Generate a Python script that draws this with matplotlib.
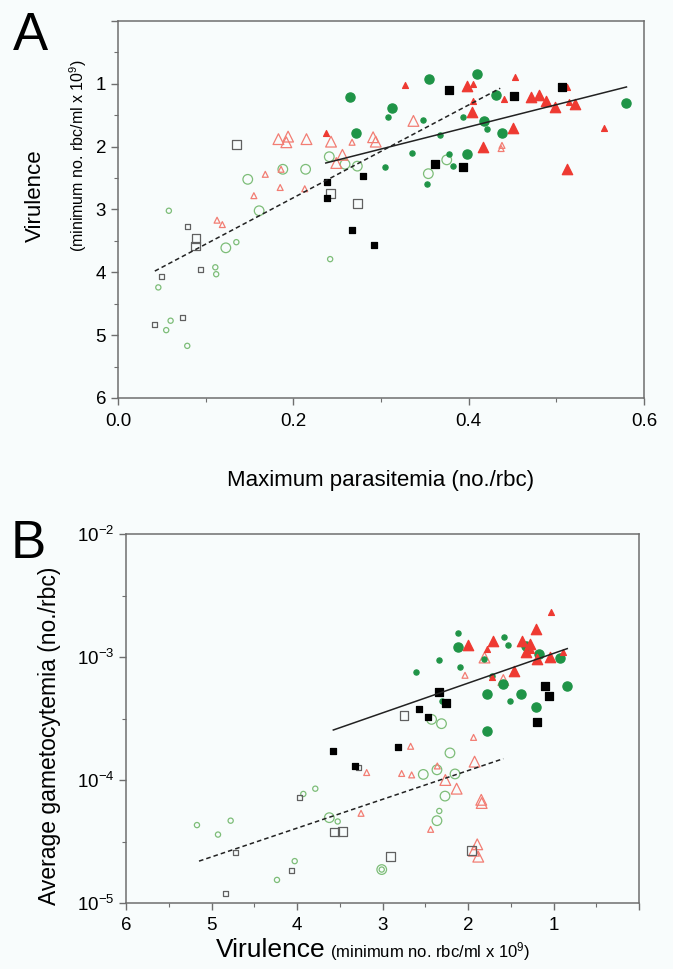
import numpy as np
import matplotlib
matplotlib.use('Agg')
import matplotlib.pyplot as plt
from matplotlib.ticker import FixedLocator, NullFormatter

plt.rcParams['font.family'] = ['Liberation Sans', 'DejaVu Sans']
plt.rcParams['mathtext.fontset'] = 'custom'
plt.rcParams['mathtext.rm'] = 'Liberation Sans'
plt.rcParams['mathtext.it'] = 'Liberation Sans:italic'
plt.rcParams['mathtext.default'] = 'regular'

# ---------------- Panel A: virulence vs maximum parasitemia ----------------
# (x = max parasitemia, y = virulence); G/R/K = green/red/black, F/O = filled/open, L/S = large/small
a_gf_l = ([0.265, 0.272, 0.355, 0.410, 0.431, 0.580, 0.313, 0.418, 0.438, 0.398],
          [1.21, 1.78, 0.92, 0.84, 1.17, 1.31, 1.39, 1.59, 1.78, 2.12])
a_gf_s = ([0.308, 0.348, 0.394, 0.421, 0.367, 0.335, 0.304, 0.377, 0.382, 0.352],
          [1.52, 1.58, 1.53, 1.72, 1.81, 2.10, 2.33, 2.12, 2.30, 2.60])
a_go_l = ([0.148, 0.188, 0.214, 0.241, 0.259, 0.273, 0.161, 0.375, 0.354, 0.123],
          [2.52, 2.36, 2.36, 2.16, 2.28, 2.31, 3.02, 2.21, 2.43, 3.61])
a_go_s = ([0.058, 0.135, 0.111, 0.112, 0.046, 0.060, 0.055, 0.079, 0.242],
          [3.02, 3.52, 3.92, 4.03, 4.24, 4.77, 4.92, 5.17, 3.79])
a_rf_l = ([0.398, 0.471, 0.480, 0.488, 0.498, 0.521, 0.404, 0.451, 0.416, 0.512],
          [1.04, 1.21, 1.18, 1.27, 1.37, 1.32, 1.45, 1.70, 2.00, 2.36])
a_rf_s = ([0.237, 0.327, 0.405, 0.453, 0.512, 0.440, 0.514, 0.405, 0.554],
          [1.78, 1.02, 1.00, 0.89, 1.05, 1.24, 1.29, 1.27, 1.71])
a_ro_l = ([0.183, 0.194, 0.192, 0.215, 0.243, 0.291, 0.294, 0.256, 0.249, 0.337],
          [1.88, 1.84, 1.93, 1.88, 1.92, 1.85, 1.92, 2.13, 2.26, 1.59])
a_ro_s = ([0.267, 0.168, 0.185, 0.213, 0.155, 0.113, 0.119, 0.186, 0.438, 0.437, 0.362],
          [1.93, 2.44, 2.65, 2.67, 2.78, 3.17, 3.24, 2.36, 1.98, 2.03, 2.27])
a_kf_l = ([0.377, 0.507, 0.452, 0.362, 0.394],
          [1.10, 1.05, 1.19, 2.27, 2.33])
a_kf_s = ([0.238, 0.238, 0.279, 0.267, 0.292],
          [2.57, 2.81, 2.46, 3.32, 3.57])
a_ko_l = ([0.135, 0.242, 0.273, 0.089, 0.088],
          [1.96, 2.75, 2.90, 3.46, 3.58])
a_ko_s = ([0.079, 0.094, 0.050, 0.074, 0.042],
          [3.27, 3.96, 4.07, 4.72, 4.83])
a_fit_solid = ([0.237, 0.580], [2.26, 1.05])
a_fit_dash = ([0.042, 0.436], [3.98, 1.07])

# ---------------- Panel B: gametocytemia vs virulence ----------------
b_gf_l = ([2.117, 1.322, 1.174, 0.924, 1.587, 0.846, 1.782, 1.380, 1.210, 1.782],
          [1.20e-3, 1.24e-3, 1.06e-3, 9.8e-4, 6.0e-4, 5.8e-4, 5.0e-4, 5.0e-4, 3.9e-4, 2.5e-4])
b_gf_s = ([2.122, 1.576, 1.533, 2.340, 1.818, 2.099, 2.605, 1.720, 1.513, 2.300],
          [1.57e-3, 1.45e-3, 1.26e-3, 9.5e-4, 9.6e-4, 8.3e-4, 7.5e-4, 7.0e-4, 4.4e-4, 4.4e-4])
b_rf_l = ([1.201, 2.000, 1.704, 1.374, 1.271, 1.325, 1.190, 1.038, 1.458],
          [1.70e-3, 1.26e-3, 1.36e-3, 1.36e-3, 1.28e-3, 1.10e-3, 9.6e-4, 1.00e-3, 7.7e-4])
b_rf_s = ([1.029, 1.778, 1.268, 0.893, 1.720],
          [2.32e-3, 1.16e-3, 1.15e-3, 1.10e-3, 6.9e-4])
b_ro_l = ([1.807, 1.587, 1.923, 2.265, 2.133, 1.845, 1.840, 1.892, 1.930, 1.880],
          [9.9e-4, 6.5e-4, 1.41e-4, 1.0e-4, 8.5e-5, 6.9e-5, 6.5e-5, 3.0e-5, 2.66e-5, 2.38e-5])
b_ro_s = ([2.035, 1.935, 2.671, 2.776, 2.659, 2.359, 2.437, 3.185, 3.251, 2.261],
          [7.1e-4, 2.22e-4, 1.88e-4, 1.13e-4, 1.10e-4, 1.30e-4, 3.97e-5, 1.15e-4, 5.36e-5, 4.2e-4])
b_go_l = ([2.426, 2.310, 2.211, 2.523, 2.363, 2.152, 2.269, 2.363, 3.009, 3.622],
          [3.11e-4, 2.87e-4, 1.66e-4, 1.11e-4, 1.21e-4, 1.12e-4, 7.4e-5, 4.67e-5, 1.87e-5, 4.94e-5])
b_go_s = ([2.336, 3.926, 3.786, 5.170, 4.924, 4.776, 3.524, 4.027, 4.234, 3.009],
          [5.6e-5, 7.7e-5, 8.5e-5, 4.3e-5, 3.6e-5, 4.67e-5, 4.6e-5, 2.19e-5, 1.54e-5, 1.87e-5])
b_kf_l = ([2.336, 1.103, 1.053, 1.190, 2.261],
          [5.16e-4, 5.8e-4, 4.8e-4, 2.98e-4, 4.2e-4])
b_kf_s = ([3.575, 3.322, 2.823, 2.574, 2.465],
          [1.73e-4, 1.31e-4, 1.86e-4, 3.78e-4, 3.27e-4])
b_ko_l = ([2.749, 1.957, 2.904, 3.564, 3.466],
          [3.33e-4, 2.66e-5, 2.38e-5, 3.78e-5, 3.8e-5])
b_ko_s = ([3.275, 3.969, 4.725, 4.070, 4.840],
          [1.26e-4, 7.2e-5, 2.58e-5, 1.83e-5, 1.2e-5])
b_fit_solid = ([3.575, 0.839], [2.55e-4, 1.17e-3])
b_fit_dash = ([5.146, 1.587], [2.19e-5, 1.49e-4])

GREEN = '#1f9447'
RED = '#ee3a32'
GREEN_OPEN = '#7dbd78'
RED_OPEN = '#f27d73'
GRAY_OPEN = '#606060'
SPINE = '#6e6e6e'
BG = '#f8fcfc'

# marker style per group: (marker, size, face, edge)
STYLES = {
    'gf_l': ('o', 44, GREEN, GREEN), 'gf_s': ('o', 14, GREEN, GREEN),
    'go_l': ('o', 48, 'none', GREEN_OPEN), 'go_s': ('o', 14, 'none', GREEN_OPEN),
    'rf_l': ('^', 56, RED, RED), 'rf_s': ('^', 18, RED, RED),
    'ro_l': ('^', 60, 'none', RED_OPEN), 'ro_s': ('^', 18, 'none', RED_OPEN),
    'kf_l': ('s', 36, 'black', 'black'), 'kf_s': ('s', 13, 'black', 'black'),
    'ko_l': ('s', 40, 'none', GRAY_OPEN), 'ko_s': ('s', 13, 'none', GRAY_OPEN),
}


def draw_groups(ax, groups):
    for key, (xs, ys) in groups:
        m, s, fc, ec = STYLES[key]
        ax.scatter(xs, ys, marker=m, s=s, facecolors=fc, edgecolors=ec,
                   linewidths=0.9, zorder=3)


def style_axes(ax):
    ax.set_facecolor(BG)
    for sp in ax.spines.values():
        sp.set_color(SPINE)
        sp.set_linewidth(1.1)
    ax.tick_params(which='both', direction='out', color=SPINE, labelsize=13.5)
    ax.tick_params(which='major', length=5, width=1)
    ax.tick_params(which='minor', length=3, width=0.8)


fig = plt.figure(figsize=(6.73, 9.69), dpi=100)
fig.patch.set_facecolor(BG)

# ---- Panel A ----
axA = fig.add_axes([118 / 673, 1 - 398 / 969, 526 / 673, 377 / 969])
style_axes(axA)
draw_groups(axA, [('go_s', a_go_s), ('go_l', a_go_l), ('ro_s', a_ro_s), ('ro_l', a_ro_l),
                  ('ko_s', a_ko_s), ('ko_l', a_ko_l), ('gf_s', a_gf_s), ('gf_l', a_gf_l),
                  ('rf_s', a_rf_s), ('rf_l', a_rf_l), ('kf_s', a_kf_s), ('kf_l', a_kf_l)])
axA.plot(*a_fit_solid, color='#222222', lw=1.1, zorder=4)
axA.plot(*a_fit_dash, color='#222222', lw=1.1, ls=(0, (3, 2)), zorder=4)
axA.set_xlim(0, 0.6)
axA.set_ylim(6, 0)
axA.set_xticks([0.0, 0.2, 0.4, 0.6], labels=['0.0', '0.2', '0.4', '0.6'])
axA.xaxis.set_minor_locator(FixedLocator([0.1, 0.3, 0.5]))
axA.set_yticks(range(7), labels=[''] + [str(i) for i in range(1, 7)])
axA.yaxis.set_minor_locator(FixedLocator([0.5, 1.5, 2.5, 3.5, 4.5, 5.5]))
axA.tick_params(axis='x', pad=6)

fig.text(381 / 673, 1 - 486 / 969, 'Maximum parasitemia (no./rbc)', ha='center',
         va='baseline', fontsize=16)
fig.text(35 / 673, 1 - 196 / 969, 'Virulence', rotation=90, ha='center', va='center',
         fontsize=16)
fig.text(78 / 673, 1 - 156 / 969, r'(minimum no. rbc/ml x 10$^{9}$)', rotation=90,
         ha='center', va='center', fontsize=11.5)
fig.text(13 / 673, 1 - 50 / 969, 'A', fontsize=38, va='baseline', ha='left')

# ---- Panel B ----
axB = fig.add_axes([126 / 673, 1 - 903 / 969, 513 / 673, 369 / 969])
style_axes(axB)
axB.set_yscale('log')
draw_groups(axB, [('go_s', b_go_s), ('go_l', b_go_l), ('ro_s', b_ro_s), ('ro_l', b_ro_l),
                  ('ko_s', b_ko_s), ('ko_l', b_ko_l), ('gf_s', b_gf_s), ('gf_l', b_gf_l),
                  ('rf_s', b_rf_s), ('rf_l', b_rf_l), ('kf_s', b_kf_s), ('kf_l', b_kf_l)])
axB.plot(*b_fit_solid, color='#222222', lw=1.1, zorder=4)
axB.plot(*b_fit_dash, color='#222222', lw=1.1, ls=(0, (3, 2)), zorder=4)
axB.set_xlim(6, 0)
axB.set_ylim(1e-5, 1e-2)
axB.set_xticks(range(7), labels=[''] + [str(i) for i in range(1, 7)])
axB.xaxis.set_minor_locator(FixedLocator([0.5, 1.5, 2.5, 3.5, 4.5, 5.5]))
axB.set_yticks([1e-5, 1e-4, 1e-3, 1e-2],
               labels=[r'10$^{-5}$', r'10$^{-4}$', r'10$^{-3}$', r'10$^{-2}$'])
axB.yaxis.set_minor_locator(FixedLocator([10 ** -4.5, 10 ** -3.5, 10 ** -2.5]))
axB.yaxis.set_minor_formatter(NullFormatter())
axB.tick_params(axis='x', pad=5)

fig.text(50 / 673, 1 - 736 / 969, 'Average gametocytemia (no./rbc)', rotation=90,
         ha='center', va='center', fontsize=16.5)
fig.text(216 / 673, 1 - 957 / 969, 'Virulence', ha='left', va='baseline', fontsize=19)
fig.text(330 / 673, 1 - 957 / 969, r'(minimum no. rbc/ml x 10$^{9}$)', ha='left',
         va='baseline', fontsize=12)
fig.text(11 / 673, 1 - 558 / 969, 'B', fontsize=38, va='baseline', ha='left')

fig.savefig('out.png', dpi=100, facecolor=BG)
